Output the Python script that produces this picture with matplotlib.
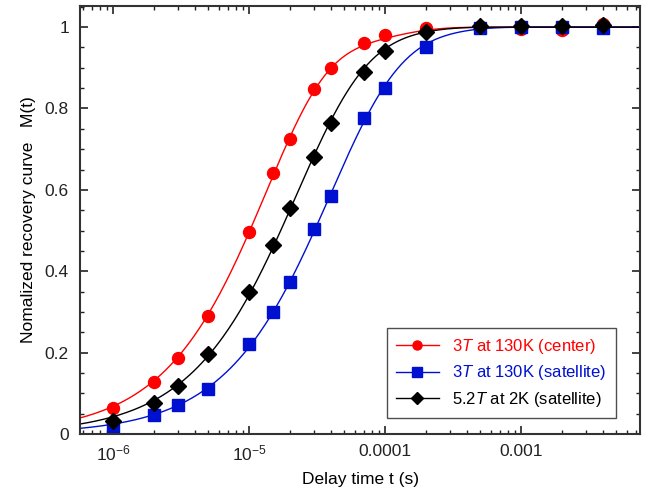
import numpy as np
import matplotlib
matplotlib.use('Agg')
import matplotlib.pyplot as plt
from matplotlib.ticker import FixedLocator, FuncFormatter, MultipleLocator, LogLocator, NullFormatter

plt.rcParams['font.family'] = ['Liberation Sans', 'DejaVu Sans']
plt.rcParams['mathtext.fontset'] = 'custom'
plt.rcParams['mathtext.it'] = 'Liberation Sans:italic'
plt.rcParams['mathtext.rm'] = 'Liberation Sans'

# delay times (s)
t = [1e-6, 2e-6, 3e-6, 5e-6, 1e-5, 1.5e-5, 2e-5, 3e-5, 4e-5, 7e-5, 1e-4, 2e-4, 5e-4, 1e-3, 2e-3, 4e-3]

m_center = [0.065, 0.128, 0.187, 0.290, 0.497, 0.641, 0.724, 0.848, 0.900,
            0.962, 0.980, 0.998, 1.000, 0.995, 0.992, 1.007]
m_sat130 = [0.017, 0.046, 0.071, 0.110, 0.220, 0.300, 0.373, 0.505, 0.585,
            0.777, 0.850, 0.952, 0.997, 1.000, 1.000, 0.998]
m_sat2k = [0.031, 0.075, 0.119, 0.197, 0.349, 0.465, 0.555, 0.682, 0.765,
           0.889, 0.941, 0.987, 1.002, 1.002, 1.002, 1.005]

labels = [r'3$\it{T}$ at 130K (center)', r'3$\it{T}$ at 130K (satellite)',
          r'5.2$\it{T}$ at 2K (satellite)']
colors = ['#ff0000', '#0010d0', '#000000']
markers = ['o', 's', 'D']

# I=3/2 recovery functions: (amplitudes, rates in units of 1/T1)
center_model = ([0.1, 0.9], [1, 6])
satellite_model = ([0.1, 0.5, 0.4], [1, 3, 6])
models = [center_model, satellite_model, satellite_model]


def recovery(tt, T1, model):
    amps, rates = model
    tt = np.asarray(tt)
    s = sum(a * np.exp(-r * tt / T1) for a, r in zip(amps, rates))
    return 1 - s


def fit_T1(x, y, model):
    T1s = np.logspace(-6, -2, 4000)
    err = [((recovery(x, T1, model) - np.asarray(y)) ** 2).sum() for T1 in T1s]
    return T1s[int(np.argmin(err))]


fig = plt.figure(figsize=(6.52, 4.96), dpi=100)
ax = fig.add_axes([0.1227, 0.125, 0.8589, 0.863])

tt = np.logspace(np.log10(5.7e-7), np.log10(7.5e-3), 400)
for y, c, mk, lab, mod in zip([m_center, m_sat130, m_sat2k], colors, markers, labels, models):
    T1 = fit_T1(t, y, mod)
    ax.plot(tt, recovery(tt, T1, mod), color=c, lw=1.0)
    ms = 7.8 if mk == 'D' else 8.6
    ax.plot(t, y, ls='none', marker=mk, color=c, ms=ms)
    # legend handle
    ax.plot([], [], color=c, lw=1.0, marker=mk, ms=6.5, label=lab)

ax.set_xscale('log')
ax.set_xlim(5.7e-7, 7.5e-3)
ax.set_ylim(0, 1.052)

ax.xaxis.set_major_locator(FixedLocator([1e-6, 1e-5, 1e-4, 1e-3]))
ax.xaxis.set_major_formatter(FuncFormatter(
    lambda v, p: {1e-6: r'$\mathregular{10^{-6}}$', 1e-5: r'$\mathregular{10^{-5}}$',
                  1e-4: '0.0001', 1e-3: '0.001'}.get(v, '')))
ax.xaxis.set_minor_locator(LogLocator(base=10, subs=np.arange(2, 10), numticks=20))
ax.xaxis.set_minor_formatter(NullFormatter())
ax.yaxis.set_major_locator(MultipleLocator(0.2))
ax.yaxis.set_minor_locator(MultipleLocator(0.05))
ax.yaxis.set_major_formatter(FuncFormatter(lambda v, p: '0' if abs(v) < 1e-9 else ('1' if abs(v - 1) < 1e-9 else f'{v:.1f}')))

ax.tick_params(which='both', direction='in', top=True, right=True, labelsize=12.5, colors='#222222')
ax.tick_params(which='major', length=6, width=1.2)
ax.tick_params(which='minor', length=3, width=1.0)
ax.tick_params(axis='x', pad=7)
ax.tick_params(axis='y', pad=8)
for s in ax.spines.values():
    s.set_linewidth(1.5)
    s.set_color('#333333')

ax.set_xlabel('Delay time t (s)', fontsize=12.5, labelpad=6)
ax.set_ylabel('Nomalized recovery curve   M(t)', fontsize=12.5, labelpad=6)

leg = ax.legend(loc='lower right', bbox_to_anchor=(0.957, 0.037), fontsize=12,
                frameon=True, fancybox=False, edgecolor='#222222', handlelength=2.6,
                borderpad=0.55, labelspacing=0.45, borderaxespad=0)
leg.get_frame().set_linewidth(1.0)
for txt, c in zip(leg.get_texts(), colors):
    txt.set_color(c)

fig.savefig('out.png', dpi=100)
